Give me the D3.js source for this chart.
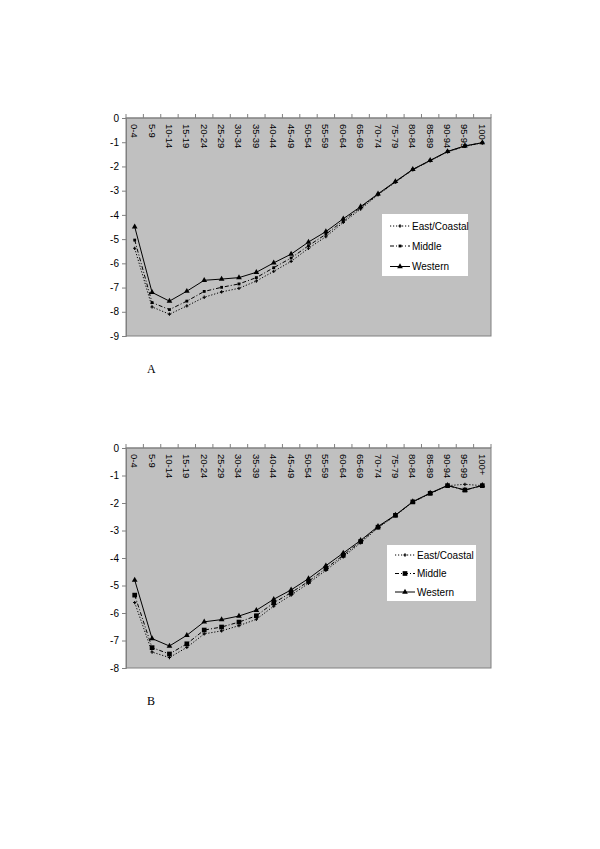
<!DOCTYPE html>
<html>
<head>
<meta charset="utf-8">
<script src="https://cdn.jsdelivr.net/npm/d3@7"></script>
<style>
  body { margin: 0; background: #fff; }
  svg { display: block; }
</style>
</head>
<body>
<svg id="chart" width="600" height="849"></svg>
<script>
// age groups shared by both panels
const ageGroups = ["0-4", "5-9", "10-14", "15-19", "20-24", "25-29", "30-34", "35-39", "40-44", "45-49",
  "50-54", "55-59", "60-64", "65-69", "70-74", "75-79", "80-84", "85-89", "90-94", "95-99", "100+"];

// panel A values
const eastA    = [-5.38, -7.80, -8.10, -7.76, -7.40, -7.18, -7.03, -6.73, -6.33, -5.92, -5.38, -4.90, -4.31, -3.76, -3.17, -2.65, -2.14, -1.77, -1.40, -1.17, -1.03];
const middleA  = [-5.04, -7.62, -7.91, -7.56, -7.16, -6.99, -6.85, -6.59, -6.18, -5.78, -5.27, -4.80, -4.24, -3.70, -3.15, -2.64, -2.13, -1.76, -1.39, -1.16, -1.02];
const westernA = [-4.49, -7.20, -7.56, -7.15, -6.70, -6.65, -6.59, -6.37, -5.98, -5.62, -5.12, -4.69, -4.16, -3.66, -3.13, -2.62, -2.12, -1.75, -1.38, -1.15, -1.02];

// panel B values
const eastB    = [-5.62, -7.42, -7.62, -7.25, -6.76, -6.65, -6.46, -6.23, -5.75, -5.35, -4.92, -4.45, -3.96, -3.45, -2.90, -2.46, -1.97, -1.66, -1.37, -1.32, -1.37];
const middleB  = [-5.35, -7.26, -7.49, -7.12, -6.62, -6.51, -6.33, -6.10, -5.63, -5.26, -4.85, -4.38, -3.90, -3.40, -2.88, -2.45, -1.96, -1.65, -1.37, -1.53, -1.37];
const westernB = [-4.80, -6.93, -7.20, -6.81, -6.32, -6.24, -6.11, -5.90, -5.50, -5.16, -4.75, -4.28, -3.82, -3.36, -2.85, -2.44, -1.95, -1.64, -1.36, -1.53, -1.36];

const seriesNames = ["East/Coastal", "Middle", "Western"];
const yTicksA = [0, -1, -2, -3, -4, -5, -6, -7, -8, -9];
const yTicksB = [0, -1, -2, -3, -4, -5, -6, -7, -8];

const svg = d3.select("#chart");

const styles = {
  "East/Coastal": { dash: "1.2,1.8", symbol: d3.symbolCross, size: 6 },
  "Middle":       { dash: "4,2,1,2", symbol: d3.symbolSquare, size: 9 },
  "Western":      { dash: null,      symbol: d3.symbolTriangle, size: 14 }
};

function drawPanel(cfg) {
  const { top, bottom, yMin, ticks, series, legend, letter, squareSize } = cfg;
  const left = 126, right = 491;

  const x = d3.scaleBand().domain(ageGroups).range([left, right]).padding(0);
  const y = d3.scaleLinear().domain([yMin, 0]).range([bottom, top]);

  const g = svg.append("g");

  // plot area
  g.append("rect")
    .attr("x", left).attr("y", top)
    .attr("width", right - left).attr("height", bottom - top)
    .attr("fill", "#c0c0c0")
    .attr("stroke", "#808080")
    .attr("stroke-width", 1);

  // y axis (plain hyphen minus like the original)
  const yAxis = g.append("g")
    .attr("transform", `translate(${left},0)`)
    .call(d3.axisLeft(y).tickValues(ticks).tickSize(4).tickFormat(d => String(d)));
  yAxis.select(".domain").attr("stroke", "#808080");
  yAxis.selectAll(".tick line").attr("stroke", "#808080");
  yAxis.selectAll("text")
    .attr("font-family", "Liberation Sans, Arial, sans-serif")
    .attr("font-size", 10)
    .attr("fill", "#000")
    .attr("x", -7);

  // x axis at zero, ticks between categories pointing up
  const xAxisY = y(0);
  g.append("line")
    .attr("x1", left).attr("x2", right)
    .attr("y1", xAxisY).attr("y2", xAxisY)
    .attr("stroke", "#808080");
  g.selectAll(".xtick")
    .data(ageGroups.concat(["__end"]))
    .join("line")
    .attr("x1", (d, i) => left + i * x.bandwidth())
    .attr("x2", (d, i) => left + i * x.bandwidth())
    .attr("y1", xAxisY).attr("y2", xAxisY - 4)
    .attr("stroke", "#808080");

  g.selectAll(".xlab")
    .data(ageGroups)
    .join("text")
    .attr("transform", d => `translate(${x(d) + x.bandwidth() / 2 - 3.5},${xAxisY + 6}) rotate(90)`)
    .attr("font-family", "Liberation Sans, Arial, sans-serif")
    .attr("font-size", 9.5)
    .attr("fill", "#000")
    .text(d => d);

  // lines and markers
  const line = d3.line()
    .x((d, i) => x(ageGroups[i]) + x.bandwidth() / 2)
    .y(d => y(d));

  seriesNames.forEach((name, si) => {
    const vals = series[si];
    const st = styles[name];
    g.append("path")
      .datum(vals)
      .attr("fill", "none")
      .attr("stroke", "#000")
      .attr("stroke-width", 1)
      .attr("stroke-dasharray", st.dash)
      .attr("d", line);
    const size = name === "Middle" ? squareSize : st.size;
    g.selectAll(null)
      .data(vals)
      .join("path")
      .attr("transform", (d, i) => `translate(${x(ageGroups[i]) + x.bandwidth() / 2},${y(d)})`)
      .attr("d", d3.symbol().type(st.symbol).size(size))
      .attr("fill", "#000");
  });

  // legend
  const lg = g.append("g");
  lg.append("rect")
    .attr("x", legend.x).attr("y", legend.y)
    .attr("width", legend.w).attr("height", legend.h)
    .attr("fill", "#fff");
  seriesNames.forEach((name, i) => {
    const st = styles[name];
    const ly = legend.rows[i];
    lg.append("line")
      .attr("x1", legend.x + 8).attr("x2", legend.x + 28)
      .attr("y1", ly).attr("y2", ly)
      .attr("stroke", "#000")
      .attr("stroke-dasharray", st.dash);
    const size = name === "Middle" ? squareSize : st.size;
    lg.append("path")
      .attr("transform", `translate(${legend.x + 18},${ly})`)
      .attr("d", d3.symbol().type(st.symbol).size(size))
      .attr("fill", "#000");
    lg.append("text")
      .attr("x", legend.x + 30).attr("y", ly)
      .attr("dy", "0.35em")
      .attr("font-family", "Liberation Sans, Arial, sans-serif")
      .attr("font-size", 10)
      .attr("fill", "#000")
      .text(name);
  });

  // panel letter
  svg.append("text")
    .attr("x", 147).attr("y", letter)
    .attr("font-family", "Liberation Serif, Times New Roman, serif")
    .attr("font-size", 12)
    .attr("fill", "#000")
    .text(cfg.letterText);
}

drawPanel({
  top: 118, bottom: 336, yMin: -9, ticks: yTicksA,
  series: [eastA, middleA, westernA],
  squareSize: 8,
  legend: { x: 382, y: 214, w: 86, h: 62, rows: [226, 246, 266.5] },
  letter: 373, letterText: "A"
});

drawPanel({
  top: 448, bottom: 668, yMin: -8, ticks: yTicksB,
  series: [eastB, middleB, westernB],
  squareSize: 22,
  legend: { x: 387, y: 545, w: 89, h: 56, rows: [555, 573.5, 592] },
  letter: 705, letterText: "B"
});
</script>
</body>
</html>
